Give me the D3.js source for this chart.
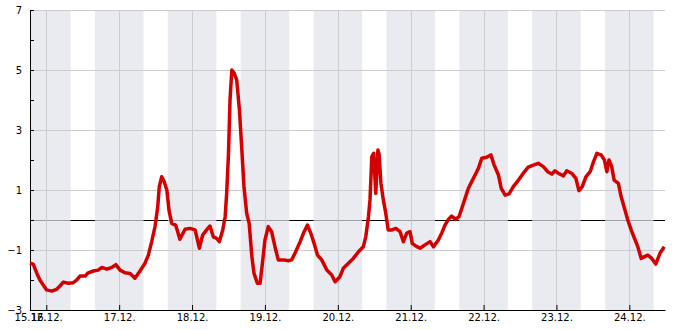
<!DOCTYPE html>
<html>
<head>
<meta charset="utf-8">
<script src="https://cdn.jsdelivr.net/npm/d3@7"></script>
<style>
  body { margin: 0; background: #fff; }
  svg { display: block; font-family: "DejaVu Sans", sans-serif; }
</style>
</head>
<body>
<script>
// hours counted from 15.12. 00:00
var hours = [18.6, 19.7, 20.9, 21.9, 23.0, 24.1, 25.8, 27.4, 28.5, 29.6, 31.3, 32.9, 34.0, 35.1, 36.8, 37.8,
  39.5, 41.1, 42.3, 43.9, 45.6, 46.9, 48.3, 49.9, 51.6, 53.2, 54.9, 56.5, 57.6, 58.7, 59.8, 60.7, 61.2, 62.0,
  62.8, 63.7, 64.4, 65.3, 66.6, 68.0, 69.7, 71.3, 73.0, 74.4, 75.5, 76.8, 77.9, 79.0, 80.1, 81.0, 82.1, 82.9,
  83.4, 84.0, 84.5, 85.1, 85.9, 86.7, 87.6, 88.4, 89.1, 90.0, 90.8, 91.7, 92.4, 93.5, 94.4, 95.3, 96.0, 97.1,
  98.2, 99.3, 100.4, 102.1, 103.7, 104.8, 105.9, 107.6, 108.9, 110.0, 111.1, 112.2, 113.3, 114.7, 116.4, 118.0,
  119.1, 120.7, 121.8, 123.5, 125.1, 126.8, 128.4, 129.2, 130.1, 130.6, 131.2, 131.8, 132.5, 133.2, 133.6, 134.2,
  135.0, 135.8, 136.6, 137.8, 139.1, 140.5, 141.6, 142.7, 143.8, 144.5, 146.0, 147.1, 148.7, 150.4, 151.5, 153.1,
  154.2, 155.3, 156.4, 157.5, 158.8, 159.9, 161.0, 162.1, 163.0, 164.1, 165.2, 166.3, 167.4, 169.0, 170.4, 171.5,
  172.9, 173.8, 175.1, 176.4, 177.8, 179.5, 181.1, 182.7, 184.4, 186.0, 187.7, 189.1, 190.5, 191.5, 192.6, 194.3,
  195.4, 197.0, 198.4, 199.4, 200.5, 201.7, 203.1, 204.2, 205.3, 206.7, 207.8, 208.6, 209.3, 210.2, 211.0, 212.4,
  213.3, 214.4, 215.5, 216.6, 217.7, 218.8, 219.9, 221.0, 222.1, 223.4, 224.7, 226.1, 227.5];
var values = [-1.44, -1.47, -1.78, -2.0, -2.17, -2.33, -2.37, -2.31, -2.2, -2.07, -2.11, -2.09, -2.0, -1.87, -1.87, -1.76,
  -1.7, -1.67, -1.58, -1.64, -1.58, -1.49, -1.67, -1.76, -1.78, -1.94, -1.69, -1.44, -1.17, -0.72, -0.22, 0.44, 1.11, 1.44,
  1.28, 1.0, 0.33, -0.11, -0.17, -0.64, -0.31, -0.28, -0.33, -0.94, -0.5, -0.33, -0.2, -0.56, -0.61, -0.72, -0.33, 0.11,
  0.89, 2.22, 4.0, 5.0, 4.89, 4.67, 3.67, 2.33, 1.11, 0.22, -0.11, -1.22, -1.78, -2.11, -2.11, -1.33, -0.67, -0.22,
  -0.39, -0.89, -1.33, -1.33, -1.36, -1.33, -1.11, -0.72, -0.39, -0.17, -0.44, -0.78, -1.17, -1.33, -1.67, -1.83,
  -2.06, -1.89, -1.61, -1.44, -1.28, -1.06, -0.89, -0.56, 0.11, 0.67, 2.11, 2.22, 0.89, 2.33, 2.2, 1.22,
  0.67, 0.22, -0.33, -0.33, -0.28, -0.39, -0.72, -0.44, -0.39, -0.78, -0.89, -0.94, -0.83, -0.72, -0.89, -0.67,
  -0.44, -0.17, 0.02, 0.13, 0.02, 0.11, 0.44, 0.78, 1.06, 1.28, 1.5, 1.72, 2.06, 2.09, 2.17, 1.83,
  1.5, 1.06, 0.83, 0.87, 1.11, 1.33, 1.56, 1.76, 1.83, 1.89, 1.78, 1.61, 1.53, 1.64, 1.56, 1.47,
  1.64, 1.56, 1.39, 0.98, 1.11, 1.44, 1.61, 1.94, 2.22, 2.17, 2.0, 1.61, 2.0, 1.78, 1.33, 1.22,
  0.78, 0.39, 0.0, -0.33, -0.61, -0.89, -1.28, -1.22, -1.17, -1.28, -1.47, -1.11, -0.89];

var rangeHours = [18.63, 227.75];       // shown period, hours from 15.12. 00:00
var yMajor = [-3, -1, 1, 3, 5, 7];
var yMinor = [-2, 0, 2, 4, 6];
var nightFrom = 16, nightTo = 8;         // shaded hours

var width = 685, height = 330;
var margin = {left: 30, right: 20, top: 10, bottom: 20};

var base = new Date(2020, 11, 15);
var toDate = function(h) { return new Date(base.getTime() + h * 3600000); };

var data = hours.map(function(h, i) { return {t: toDate(h), v: values[i]}; });
var t0 = toDate(rangeHours[0]), t1 = toDate(rangeHours[1]);

var x = d3.scaleTime().domain([t0, t1]).range([margin.left, width - margin.right]);
var y = d3.scaleLinear().domain([-3, 7]).range([height - margin.bottom, margin.top]);

var svg = d3.select("body").append("svg").attr("width", width).attr("height", height);

// zero line (sits under the shading so it greys out at night)
svg.append("line")
    .attr("x1", x.range()[0]).attr("x2", x.range()[1])
    .attr("y1", y(0)).attr("y2", y(0))
    .style("stroke", "#000").style("stroke-width", 1).attr("shape-rendering", "crispEdges");

// night bands
var nights = [];
d3.timeDay.range(d3.timeDay.offset(d3.timeDay.floor(t0), -1), t1).forEach(function(d) {
    var a = d3.timeHour.offset(d, nightFrom), b = d3.timeHour.offset(d, 24 + nightTo);
    if (b < t0 || a > t1) return;
    nights.push([a < t0 ? t0 : a, b > t1 ? t1 : b]);
});
svg.append("g").selectAll("rect").data(nights).join("rect")
    .attr("x", function(d) { return x(d[0]); })
    .attr("width", function(d) { return x(d[1]) - x(d[0]); })
    .attr("y", margin.top).attr("height", y(-3) - margin.top)
    .style("fill", "#e1e2eb").style("opacity", 0.7);

// grid
var days = d3.timeDay.range(d3.timeDay.ceil(t0), t1);
svg.append("g").selectAll("line").data(yMajor).join("line")
    .attr("x1", x.range()[0]).attr("x2", x.range()[1])
    .attr("y1", function(d) { return y(d); }).attr("y2", function(d) { return y(d); })
    .style("stroke", "#cccccc").attr("shape-rendering", "crispEdges");
svg.append("g").selectAll("line").data(days).join("line")
    .attr("x1", function(d) { return Math.round(x(d)) + 0.5; }).attr("x2", function(d) { return Math.round(x(d)) + 0.5; })
    .attr("y1", margin.top).attr("y2", y(-3))
    .style("stroke", "#cccccc");

// axes
var yAxis = svg.append("g").attr("transform", "translate(" + margin.left + ",0)")
    .call(d3.axisLeft(y).tickValues(yMajor).tickFormat(d3.format("d")).tickSizeInner(-4).tickSizeOuter(0).tickPadding(8));
svg.append("g").attr("transform", "translate(" + margin.left + ",0)")
    .call(d3.axisLeft(y).tickValues(yMinor).tickFormat("").tickSizeInner(-4).tickSizeOuter(0));

var fmt = d3.timeFormat("%d.%m.");
var xAxis = svg.append("g").attr("transform", "translate(0," + y(-3) + ")")
    .call(d3.axisBottom(x).tickValues([t0].concat(days)).tickFormat(fmt).tickSizeInner(-5).tickSizeOuter(0).tickPadding(4));
xAxis.selectAll(".tick").filter(function(d, i) { return i === 0; }).select("line").remove();

svg.selectAll(".domain").style("stroke", "#000");
svg.selectAll(".tick text").style("font-size", "10px").style("fill", "#000")
    .style("font-family", "'DejaVu Sans', sans-serif");
svg.selectAll(".tick line").style("stroke", "#000");

// series
var line = d3.line().x(function(d) { return x(d.t); }).y(function(d) { return y(d.v); });
svg.append("path").datum(data)
    .attr("d", line)
    .style("fill", "none").style("stroke", "#d40000").style("stroke-width", 3.5)
    .style("stroke-linejoin", "round");
</script>
</body>
</html>
